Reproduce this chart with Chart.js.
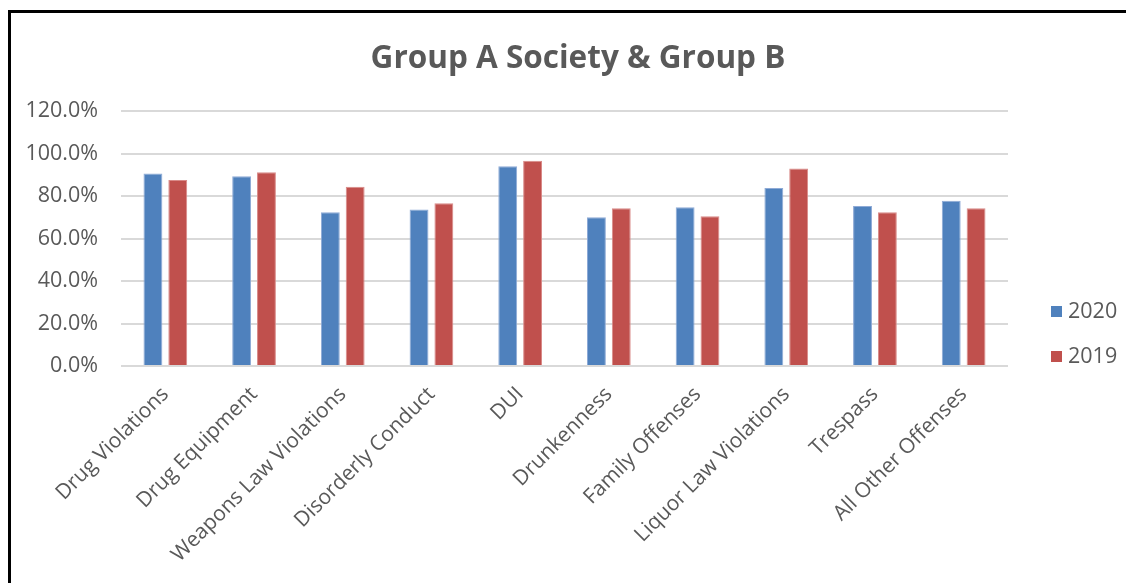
<!DOCTYPE html>
<html>
<head>
<meta charset="utf-8">
<script src="https://cdn.jsdelivr.net/npm/chart.js@4/dist/chart.umd.min.js"></script>
<style>
  html, body { margin: 0; padding: 0; background: #fff; }
  #frame {
    position: absolute; left: 8px; top: 10px; width: 1200px; height: 700px;
    border-left: 3px solid #000; border-top: 3px solid #000;
  }
  #chart { position: absolute; left: 0; top: 0; }
</style>
</head>
<body>
<div id="frame"></div>
<canvas id="chart" width="1126" height="583"></canvas>
<script>
const categories = ['Drug Violations', 'Drug Equipment', 'Weapons Law Violations', 'Disorderly Conduct',
  'DUI', 'Drunkenness', 'Family Offenses', 'Liquor Law Violations', 'Trespass', 'All Other Offenses'];
const values2020 = [90.6, 89.3, 72.4, 73.6, 94.0, 70.0, 74.7, 83.8, 75.3, 77.8];
const values2019 = [87.5, 91.2, 84.4, 76.6, 96.6, 74.2, 70.5, 92.9, 72.4, 74.2];
const yTicks = [0, 20, 40, 60, 80, 100, 120];
const chartTitle = 'Group A Society & Group B';

const FONT = '"Open Sans", sans-serif';
const GREY = '#595959';

// title is centred on the whole frame and the legend sits low on the right,
// like the Excel original, so both are drawn here instead of by the built-in plugins
const frameDecor = {
  id: 'frameDecor',
  afterDraw(chart) {
    const ctx = chart.ctx;
    ctx.save();
    ctx.fillStyle = GREY;
    ctx.font = 'bold 31.5px ' + FONT;
    ctx.textAlign = 'center';
    ctx.textBaseline = 'alphabetic';
    ctx.fillText(chartTitle, 578, 68);

    ctx.font = '21.5px ' + FONT;
    ctx.textAlign = 'left';
    ctx.textBaseline = 'middle';
    chart.data.datasets.forEach((ds, i) => {
      const y = 312 + i * 45;
      ctx.fillStyle = ds.backgroundColor;
      ctx.fillRect(1051, y - 6, 11, 11);
      ctx.fillStyle = GREY;
      ctx.fillText(ds.label, 1068, y);
    });
    ctx.restore();
  }
};

new Chart(document.getElementById('chart'), {
  type: 'bar',
  data: {
    labels: categories,
    datasets: [
      {label: '2020', data: values2020, backgroundColor: '#4F81BD', borderColor: '#8eaad6', borderWidth: 1,
        categoryPercentage: 0.56, barPercentage: 0.76},
      {label: '2019', data: values2019, backgroundColor: '#C0504D', borderColor: '#d98a88', borderWidth: 1,
        categoryPercentage: 0.56, barPercentage: 0.76}
    ]
  },
  plugins: [frameDecor],
  options: {
    responsive: false,
    animation: false,
    layout: {padding: {left: 0, right: 118, top: 111, bottom: 0}},
    plugins: {
      legend: {display: false},
      tooltip: {enabled: false},
      title: {display: false}
    },
    scales: {
      x: {
        grid: {display: false},
        border: {display: false},
        ticks: {color: GREY, font: {family: FONT, size: 21}, minRotation: 45, maxRotation: 45, padding: 8},
        afterFit(scale) { scale.height = 217; }
      },
      y: {
        min: 0,
        max: 120,
        afterBuildTicks(scale) { scale.ticks = yTicks.map(v => ({value: v})); },
        grid: {color: '#d9d9d9', lineWidth: 2, drawTicks: false},
        border: {display: false},
        ticks: {color: GREY, font: {family: FONT, size: 21.5}, padding: 23,
          callback: v => v.toFixed(1) + '%'},
        afterFit(scale) { scale.width = 121; }
      }
    }
  }
});
</script>
</body>
</html>
